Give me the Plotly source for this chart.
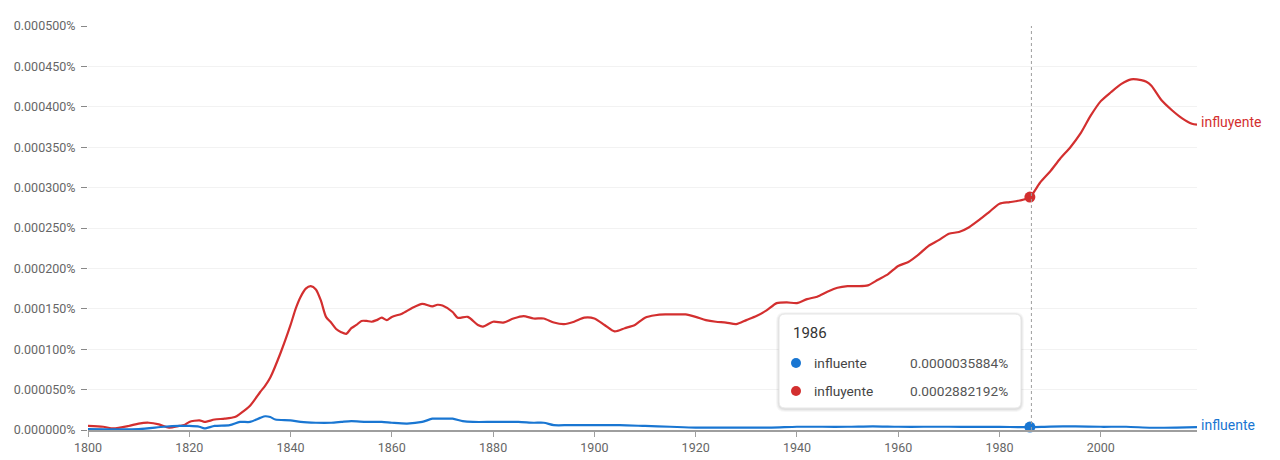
import plotly.graph_objects as go

# ---- data (values in percent) ----
years_red = [1800, 1803, 1805, 1808, 1810, 1812, 1814, 1816, 1818, 1819, 1820, 1822, 1823, 1825, 1827, 1829,
             1830, 1832, 1834, 1835, 1836, 1838, 1840, 1841, 1842, 1843, 1844, 1845, 1846, 1847, 1848, 1849,
             1850, 1851, 1852, 1853, 1854, 1855, 1856, 1857, 1858, 1859, 1860, 1862, 1864, 1866, 1868, 1869,
             1870, 1872, 1873, 1875, 1877, 1878, 1880, 1882, 1884, 1886, 1888, 1890, 1892, 1894, 1896, 1898,
             1900, 1902, 1904, 1906, 1908, 1910, 1912, 1914, 1916, 1918, 1920, 1922, 1924, 1926, 1928, 1930,
             1932, 1934, 1936, 1938, 1940, 1942, 1944, 1946, 1948, 1950, 1952, 1954, 1956, 1958, 1960, 1962,
             1964, 1966, 1968, 1970, 1972, 1974, 1976, 1978, 1980, 1982, 1984, 1986, 1988, 1990, 1992, 1994,
             1996, 1998, 2000, 2002, 2004, 2006, 2008, 2009, 2010, 2012, 2014, 2016, 2018, 2019]
influyente = [0.000005, 0.000004, 0.000002, 0.000005, 0.000008, 0.000009, 0.000007, 0.000003, 0.000005, 0.000006,
              0.000010, 0.000012, 0.000010, 0.000013, 0.000014, 0.000016,
              0.000020, 0.000030, 0.000047, 0.000055, 0.000065, 0.000095, 0.000130, 0.000150, 0.000165, 0.000175,
              0.000178, 0.000174, 0.000160, 0.000140, 0.000133, 0.000125,
              0.000121, 0.000119, 0.000126, 0.000130, 0.000135, 0.000135, 0.000134, 0.000136, 0.000139, 0.000136,
              0.000140, 0.000144, 0.000151, 0.000156, 0.000153, 0.000155,
              0.000154, 0.000146, 0.000139, 0.000140, 0.000130, 0.000128, 0.000134, 0.000133, 0.000138, 0.000141,
              0.000138, 0.000138, 0.000133, 0.000131, 0.000134, 0.000139,
              0.000138, 0.000130, 0.000122, 0.000126, 0.000130, 0.000139, 0.000142, 0.000143, 0.000143, 0.000143,
              0.000140, 0.000136, 0.000134, 0.000133, 0.000131, 0.000136,
              0.000141, 0.000148, 0.000157, 0.000158, 0.000157, 0.000162, 0.000165, 0.000171, 0.000176, 0.000178,
              0.000178, 0.000179, 0.000186, 0.000193, 0.000203, 0.000208,
              0.000217, 0.000228, 0.000235, 0.000243, 0.000245, 0.000251, 0.000260, 0.000270, 0.000280, 0.000282,
              0.000284, 0.0002882192, 0.000306, 0.000320, 0.000336, 0.000350,
              0.000367, 0.000389, 0.000407, 0.000418, 0.000428, 0.000434, 0.000433, 0.000431, 0.000426, 0.000408,
              0.000396, 0.000386, 0.000379, 0.000378]

years_blue = [1800, 1810, 1815, 1818, 1820, 1822, 1823, 1825, 1828, 1830, 1832, 1834, 1835, 1836, 1837, 1840,
              1842, 1845, 1848, 1850, 1852, 1855, 1858, 1860, 1863, 1866, 1868, 1870, 1872, 1874, 1876, 1880,
              1885, 1888, 1890, 1892, 1895, 1900, 1905, 1910, 1915, 1920, 1925, 1930, 1935, 1940, 1945, 1950,
              1955, 1960, 1965, 1970, 1975, 1980, 1986, 1990, 1995, 2000, 2005, 2010, 2015, 2019]
influente = [0.000001, 0.000001, 0.000004, 0.000005, 0.000005, 0.000004, 0.000002, 0.000005, 0.000006, 0.000010,
             0.000010, 0.000015, 0.000017, 0.000016, 0.000013, 0.000012,
             0.000010, 0.000009, 0.000009, 0.000010, 0.000011, 0.000010, 0.000010, 0.000009, 0.000008, 0.000010,
             0.000014, 0.000014, 0.000014, 0.000011, 0.000010, 0.000010,
             0.000010, 0.000009, 0.000009, 0.000006, 0.000006, 0.000006, 0.000006, 0.000005, 0.000004, 0.000003,
             0.000003, 0.000003, 0.000003, 0.000004, 0.000004, 0.000004,
             0.0000045, 0.000004, 0.000004, 0.000004, 0.0000038, 0.0000038, 0.0000035884, 0.0000043, 0.0000045,
             0.000004, 0.000004, 0.0000028, 0.000003, 0.0000035]

y_ticks = [0, 0.00005, 0.0001, 0.00015, 0.0002, 0.00025, 0.0003, 0.00035, 0.0004, 0.00045, 0.0005]
y_tick_labels = ["%.6f%% " % v for v in y_ticks]
x_ticks = [1800, 1820, 1840, 1860, 1880, 1900, 1920, 1940, 1960, 1980, 2000]

hover_year = 1986
hover_blue = 0.0000035884
hover_red = 0.0002882192
hover_blue_text = "0.0000035884%"
hover_red_text = "0.0002882192%"

RED = "#d32f2f"
BLUE = "#1976d2"
FONT = "Roboto"

# ---- geometry helpers (pixel -> paper) ----
L, R, T, B = 88, 83, 26, 30
W, H = 1280, 460
PW, PH = W - L - R, H - T - B


def px(x):
    return (x - L) / PW


def py(y):
    return (H - B - y) / PH


def rounded_rect(x0, y0, x1, y1, r):
    rx, ry = r / PW, r / PH
    X0, X1 = px(x0), px(x1)
    Y0, Y1 = py(y0), py(y1)  # Y0 top (larger), Y1 bottom
    return (f"M {X0+rx},{Y0} L {X1-rx},{Y0} Q {X1},{Y0} {X1},{Y0-ry} "
            f"L {X1},{Y1+ry} Q {X1},{Y1} {X1-rx},{Y1} "
            f"L {X0+rx},{Y1} Q {X0},{Y1} {X0},{Y1+ry} "
            f"L {X0},{Y0-ry} Q {X0},{Y0} {X0+rx},{Y0} Z")


fig = go.Figure()
fig.add_trace(go.Scatter(x=years_red, y=influyente, mode="lines", name="influyente",
                         line=dict(color=RED, width=2.2, shape="spline", smoothing=0.7),
                         hoverinfo="skip"))
fig.add_trace(go.Scatter(x=years_blue, y=influente, mode="lines", name="influente",
                         line=dict(color=BLUE, width=2.2, shape="spline", smoothing=0.7),
                         hoverinfo="skip"))
fig.add_trace(go.Scatter(x=[hover_year], y=[hover_red], mode="markers",
                         marker=dict(color=RED, size=11), hoverinfo="skip"))
fig.add_trace(go.Scatter(x=[hover_year], y=[hover_blue], mode="markers",
                         marker=dict(color=BLUE, size=11), hoverinfo="skip", cliponaxis=False))

shapes = []
# vertical dotted hover line
shapes.append(dict(type="line", xref="x", yref="paper", x0=hover_year + 0.3, x1=hover_year + 0.3,
                   y0=0, y1=1, line=dict(color="#9e9e9e", width=1, dash="dot"), layer="above"))
# tooltip shadow
box = (779, 314, 1021, 408)
for i, a in enumerate([0.03, 0.04, 0.05]):
    off = 3 - i
    shapes.append(dict(type="path", xref="paper", yref="paper",
                       path=rounded_rect(box[0] - off, box[1] - off + 1, box[2] + off, box[3] + off + 1, 6 + off),
                       fillcolor=f"rgba(0,0,0,{a})", line=dict(width=0), layer="above"))
shapes.append(dict(type="path", xref="paper", yref="paper",
                   path=rounded_rect(*box, 6), fillcolor="white",
                   line=dict(color="#e6e6e6", width=1), layer="above"))
# tooltip dots
for cy, col in [(363, BLUE), (391, RED)]:
    shapes.append(dict(type="circle", xref="paper", yref="paper",
                       x0=px(791), x1=px(801), y0=py(cy - 5), y1=py(cy + 5),
                       fillcolor=col, line=dict(width=0), layer="above"))

annotations = [
    dict(xref="paper", yref="paper", x=px(791), y=py(333), text="1986", showarrow=False,
         xanchor="left", yanchor="middle", font=dict(family=FONT, size=15, color="#333333")),
    dict(xref="paper", yref="paper", x=px(812), y=py(363), text="influente", showarrow=False,
         xanchor="left", yanchor="middle", font=dict(family=FONT, size=13.7, color="#444444")),
    dict(xref="paper", yref="paper", x=px(1010), y=py(363), text=hover_blue_text, showarrow=False,
         xanchor="right", yanchor="middle", font=dict(family=FONT, size=13.7, color="#555555")),
    dict(xref="paper", yref="paper", x=px(812), y=py(391), text="influyente", showarrow=False,
         xanchor="left", yanchor="middle", font=dict(family=FONT, size=13.7, color="#444444")),
    dict(xref="paper", yref="paper", x=px(1010), y=py(391), text=hover_red_text, showarrow=False,
         xanchor="right", yanchor="middle", font=dict(family=FONT, size=13.7, color="#555555")),
    # end labels
    dict(xref="x", yref="y", x=years_red[-1], y=influyente[-1], text="influyente", showarrow=False,
         xanchor="left", yanchor="middle", xshift=2, yshift=3, font=dict(family=FONT, size=14, color=RED)),
    dict(xref="x", yref="y", x=years_blue[-1], y=influente[-1], text="influente", showarrow=False,
         xanchor="left", yanchor="middle", xshift=2, yshift=2, font=dict(family=FONT, size=14, color=BLUE)),
]

fig.update_layout(
    width=W, height=H,
    margin=dict(l=L, r=R, t=T, b=B, autoexpand=False),
    paper_bgcolor="white", plot_bgcolor="white",
    showlegend=False,
    font=dict(family=FONT, size=12, color="#666666"),
    shapes=shapes, annotations=annotations,
    xaxis=dict(range=[1800, 2019], tickvals=x_ticks, ticktext=[str(v) for v in x_ticks],
               automargin=False,
               showgrid=False, zeroline=False, showline=True, linecolor="#9e9e9e", linewidth=2,
               ticks="outside", ticklen=5, tickcolor="#9e9e9e", tickwidth=1,
               tickfont=dict(family=FONT, size=12.5, color="#666666")),
    yaxis=dict(range=[0, 0.0005], tickvals=y_ticks, ticktext=y_tick_labels,
               automargin=False,
               showgrid=True, gridcolor="#f2f2f2", gridwidth=1, zeroline=False, showline=False,
               ticks="outside", ticklen=6, tickcolor="#888888", tickwidth=1,
               tickfont=dict(family=FONT, size=12.5, color="#666666")),
)

fig.write_html("out.html")
